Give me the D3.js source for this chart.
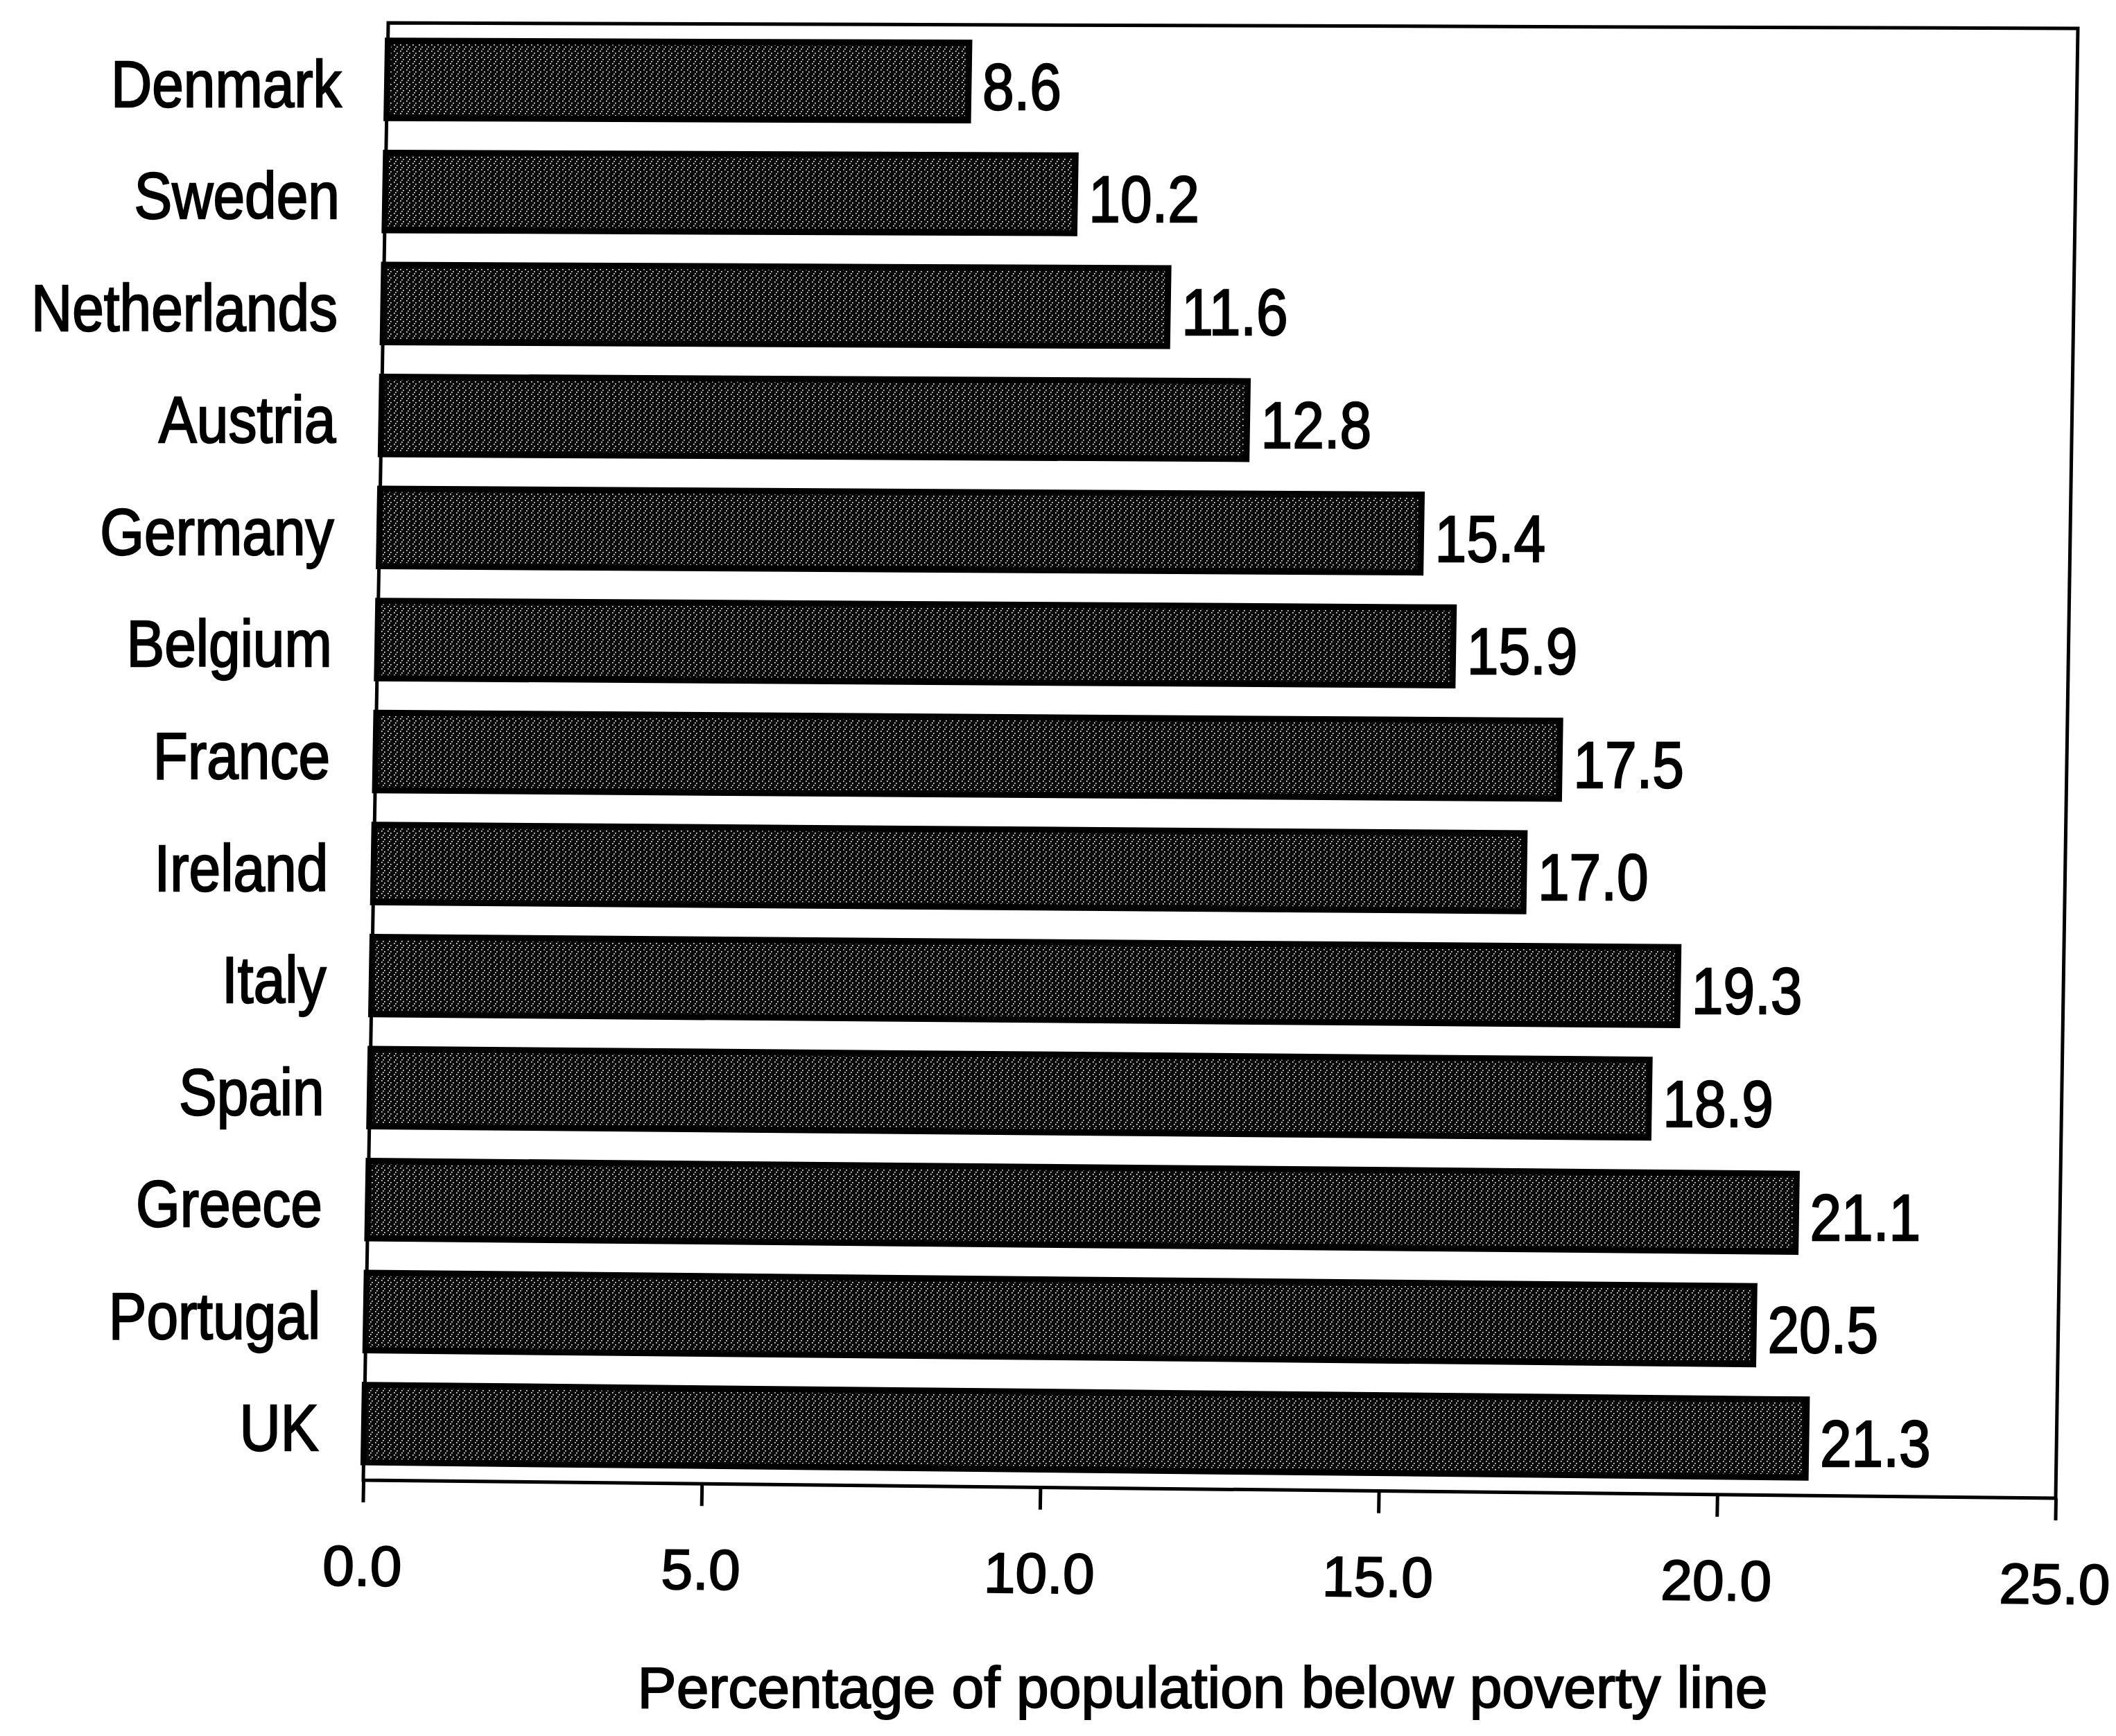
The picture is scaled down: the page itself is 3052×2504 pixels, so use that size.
<!DOCTYPE html>
<html><head><meta charset="utf-8">
<script src="https://cdn.jsdelivr.net/npm/d3@7"></script>
<style>body{margin:0;background:#fff}</style>
</head><body><svg id="c" width="3052" height="2504"></svg>
<script>
const countries = ["Denmark","Sweden","Netherlands","Austria","Germany","Belgium","France","Ireland","Italy","Spain","Greece","Portugal","UK"];
const values = [8.6,10.2,11.6,12.8,15.4,15.9,17.5,17.0,19.3,18.9,21.1,20.5,21.3];
const xTicks = [0,5,10,15,20,25];
const xTitle = "Percentage of population below poverty line";

const PW = 2437, PH = 2102;
const TL = [560,33], TR = [2997,41], BL = [524,2135], BR = [2965,2161];
function warp(u, v){
  const s = u/PW, t = v/PH;
  return [
    TL[0]*(1-s)*(1-t) + TR[0]*s*(1-t) + BL[0]*(1-s)*t + BR[0]*s*t,
    TL[1]*(1-s)*(1-t) + TR[1]*s*(1-t) + BL[1]*(1-s)*t + BR[1]*s*t
  ];
}
const FONT = "'Liberation Sans', Arial, sans-serif";
const svg = d3.select("#c");
svg.append("rect").attr("width",3052).attr("height",2504).attr("fill","#fff");

const defs = svg.append("defs");
const pat = defs.append("pattern").attr("id","stip").attr("patternUnits","userSpaceOnUse")
  .attr("width",9).attr("height",9);
pat.append("rect").attr("width",9).attr("height",9).attr("fill","#0a0a0a");
[[1,1],[5,4],[3,7]].forEach(p=>pat.append("rect").attr("x",p[0]).attr("y",p[1])
  .attr("width",1.6).attr("height",1.6).attr("fill","#fff"));

const x = d3.scaleLinear().domain([0,25]).range([0,PW]);
const y = d3.scaleBand().domain(countries).range([0,PH]).paddingInner(0.31).paddingOuter(0.16);

const data = countries.map((c,i)=>({c, v: values[i]}));
const poly = pts => "M" + pts.map(p=>p.join(",")).join("L") + "Z";

// bars
svg.append("g").selectAll("path").data(data).join("path")
  .attr("d", d => {
    const y0 = y(d.c), y1 = y(d.c) + y.bandwidth();
    return poly([warp(0,y0), warp(x(d.v),y0), warp(x(d.v),y1), warp(0,y1)]);
  })
  .attr("fill","url(#stip)").attr("stroke","#000").attr("stroke-width",9);

// frame
svg.append("path").attr("d", poly([TL,TR,BR,BL])).attr("fill","none")
  .attr("stroke","#000").attr("stroke-width",5);

// x axis along bottom edge
const a = (BR[0]-BL[0])/PW, b = (BR[1]-BL[1])/PW, cS = (BL[0]-TL[0])/PH;
const gx = svg.append("g").attr("transform", `matrix(${a},${b},${cS},1,${BL[0]},${BL[1]})`)
  .call(d3.axisBottom(x).tickValues(xTicks).tickFormat(d3.format(".1f")).tickSize(32).tickPadding(62));
gx.select(".domain").remove();
gx.selectAll(".tick line").attr("stroke","#000").attr("stroke-width",5);
gx.selectAll(".tick text").attr("font-size",82).attr("font-family",FONT).attr("fill","#000")
  .attr("stroke","#000").attr("stroke-width",2);

// category labels
const SY = 1.15, FS = 82;
svg.append("g").selectAll("text").data(data).join("text")
  .attr("transform", d => { const p = warp(0, y(d.c)+y.bandwidth()/2); return `translate(${p[0]-66},${p[1]+5}) scale(1,${SY})`; })
  .attr("y", 0.36*FS).attr("text-anchor","end")
  .attr("font-size",FS).attr("font-family",FONT).attr("fill","#000")
  .attr("stroke","#000").attr("stroke-width",2)
  .text(d=>d.c);

// value labels
svg.append("g").selectAll("text").data(data).join("text")
  .attr("transform", d => { const p = warp(x(d.v), y(d.c)+y.bandwidth()/2); return `translate(${p[0]+20},${p[1]+6}) scale(1,${SY})`; })
  .attr("y", 0.36*FS).attr("text-anchor","start")
  .attr("font-size",FS).attr("font-family",FONT).attr("fill","#000")
  .attr("stroke","#000").attr("stroke-width",2)
  .text(d=>d.v.toFixed(1));

// axis title
const mid = warp(PW/2, PH);
svg.append("text").attr("x", mid[0]-10).attr("y", mid[1]+315)
  .attr("text-anchor","middle").attr("font-size",84).attr("font-family",FONT)
  .attr("fill","#000").attr("stroke","#000").attr("stroke-width",2)
  .text(xTitle);
</script></body></html>
